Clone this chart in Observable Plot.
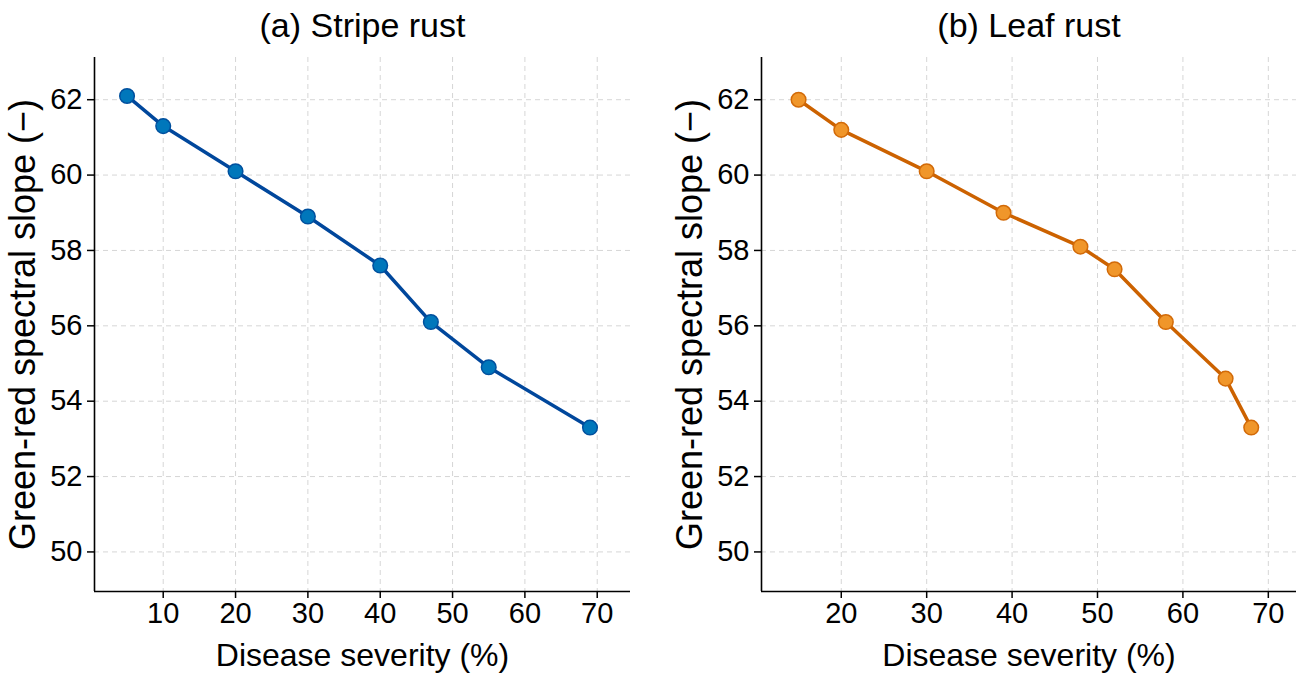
<!DOCTYPE html>
<html>
<head>
<meta charset="utf-8">
<script src="https://cdn.jsdelivr.net/npm/d3@7"></script>
<script src="https://cdn.jsdelivr.net/npm/@observablehq/plot@0.6"></script>
<style>
  html, body { margin: 0; padding: 0; background: #fff; }
  #wrap { position: relative; width: 1307px; height: 680px; font-family: "Liberation Sans", Arial, sans-serif; }
  #wrap svg { position: absolute; top: 0; overflow: visible; }
</style>
</head>
<body>
<div id="wrap"></div>
<script>
// Stripe rust: disease severity (%) vs green-red spectral slope
const stripeSeverity = [5, 10, 20, 30, 40, 47, 55, 69];
const stripeSlope    = [62.1, 61.3, 60.1, 58.9, 57.6, 56.1, 54.9, 53.3];

// Leaf rust
const leafSeverity = [15, 20, 30, 39, 48, 52, 58, 65, 68];
const leafSlope    = [62.0, 61.2, 60.1, 59.0, 58.1, 57.5, 56.1, 54.6, 53.3];

const yTicks = [50, 52, 54, 56, 58, 60, 62];
const stripeXTicks = [10, 20, 30, 40, 50, 60, 70];
const leafXTicks = [20, 30, 40, 50, 60, 70];

const titles = ["(a) Stripe rust", "(b) Leaf rust"];
const xLabel = "Disease severity (%)";
const yLabel = "Green-red spectral slope (\u2212)";

const FONT = "Liberation Sans, Arial, sans-serif";

function panel({severity, slope, xDomain, xTicks, title, line, fill, edge, left, width, marginLeft, marginRight}) {
  const data = severity.map((x, i) => ({x, y: slope[i]}));
  const yDomain = [48.95, 63.12];
  const chart = Plot.plot({
    width,
    height: 680,
    marginLeft,
    marginRight,
    marginTop: 57,
    marginBottom: 89,
    style: {fontFamily: FONT, color: "#000", background: "transparent"},
    x: {domain: xDomain},
    y: {domain: yDomain},
    marks: [
      Plot.gridX(xTicks, {stroke: "#d6d6d6", strokeOpacity: 1, strokeDasharray: "5,4", strokeWidth: 1}),
      Plot.gridY(yTicks, {stroke: "#d6d6d6", strokeOpacity: 1, strokeDasharray: "5,4", strokeWidth: 1}),
      Plot.axisX(xTicks, {tickSize: 7, tickPadding: 4, fontSize: 29, label: null, stroke: "#000", strokeWidth: 1.5}),
      Plot.axisY(yTicks, {tickSize: 7, tickPadding: 5, fontSize: 29, label: null, stroke: "#000", strokeWidth: 1.5}),
      Plot.ruleX([xDomain[0]], {stroke: "#000", strokeWidth: 1.6}),
      Plot.ruleY([yDomain[0]], {stroke: "#000", strokeWidth: 1.6}),
      Plot.line(data, {x: "x", y: "y", stroke: line, strokeWidth: 3.5}),
      Plot.dot(data, {x: "x", y: "y", r: 7.3, fill, stroke: edge, strokeWidth: 1.5}),
      Plot.text([title], {frameAnchor: "top", dy: -45, fontSize: 34, fill: "#000"}),
      Plot.text([xLabel], {frameAnchor: "bottom", dy: 74, fontSize: 32, fill: "#000"}),
      Plot.text([yLabel], {frameAnchor: "left", textAnchor: "middle", dx: -71, rotate: -90, fontSize: 36, fill: "#000"})
    ]
  });
  chart.style.left = left + "px";
  document.getElementById("wrap").appendChild(chart);
}

panel({
  severity: stripeSeverity, slope: stripeSlope,
  xDomain: [0.5, 74.6], xTicks: stripeXTicks, title: titles[0],
  line: "#00479c", fill: "#0077bb", edge: "#00509e",
  left: 0, width: 653, marginLeft: 94, marginRight: 23
});

panel({
  severity: leafSeverity, slope: leafSlope,
  xDomain: [10.66, 73.3], xTicks: leafXTicks, title: titles[1],
  line: "#cc6200", fill: "#f0962a", edge: "#d26a08",
  left: 653, width: 654, marginLeft: 108, marginRight: 11
});
</script>
</body>
</html>
